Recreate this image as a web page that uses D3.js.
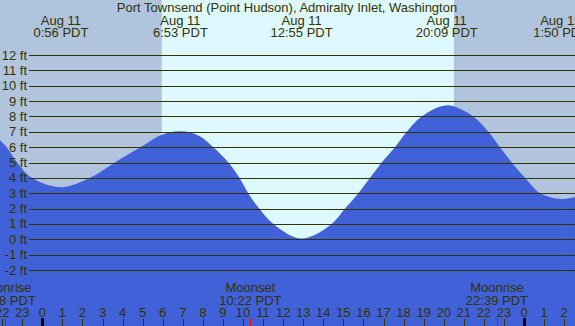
<!DOCTYPE html>
<html>
<head>
<meta charset="utf-8">
<script src="https://cdn.jsdelivr.net/npm/d3@7"></script>
<style>
  html, body { margin: 0; padding: 0; overflow: hidden; }
  svg { display: block; font-family: "Liberation Sans", Arial, sans-serif; }
</style>
</head>
<body>
<div id="chart"></div>
<script>
const title = 'Port Townsend (Point Hudson), Admiralty Inlet, Washington';

// tide height (ft), hours from midnight Aug 11
const tideHours = [-2.11, -1.77, -1.25, -0.53, 0.93, 2.38, 3.62, 5.03, 5.96, 6.88, 7.8, 8.52, 9.27, 9.82,
  10.26, 10.81, 11.51, 12.92, 14.42, 15.08, 15.75, 16.33, 16.91, 17.57, 18.16, 18.9,
  20.15, 21.47, 22.22, 22.8, 23.39, 24.05, 24.8, 25.83, 26.54];
const tideFeet = [6.46, 6.0, 5.0, 4.0, 3.39, 4.0, 5.0, 6.1, 6.8, 7.03, 6.75, 6.0, 5.0, 4.0,
  3.0, 2.0, 1.0, 0.05, 1.0, 2.0, 3.0, 4.0, 5.0, 6.0, 7.0, 8.0,
  8.72, 8.0, 7.0, 6.0, 5.0, 4.0, 3.0, 2.62, 2.75];

// high / low labels
const extremeHours = [0.93, 6.88, 12.92, 20.15, 25.83];
const extremeDates = ['Aug 11', 'Aug 11', 'Aug 11', 'Aug 11', 'Aug 12'];
const extremeTimes = ['0:56 PDT', '6:53 PDT', '12:55 PDT', '20:09 PDT', '1:50 PDT'];

// sun
const sunrise = 5.95;
const sunset = 20.51;

// moon events
const moonHours = [-1.87, 10.37, 22.65];
const moonNames = ['Moonrise', 'Moonset', 'Moonrise'];
const moonTimes = ['22:08 PDT', '10:22 PDT', '22:39 PDT'];

const feetTicks = d3.range(-2, 13);
const hourTicks = d3.range(-2, 27);

const width = 575;
const height = 326;
const ink = '#333300';
const fontSize = 13;

const x = d3.scaleLinear().domain([0, 24]).range([42.3, 524]);
const y = d3.scaleLinear().domain([0, 12]).range([239.3, 55]);

const svg = d3.select('#chart').append('svg')
  .attr('width', width)
  .attr('height', height);

// night and day backgrounds
svg.append('rect')
  .attr('width', width).attr('height', height)
  .attr('fill', '#b0c4de');

svg.append('rect')
  .attr('x', x(sunrise)).attr('y', 0)
  .attr('width', x(sunset) - x(sunrise)).attr('height', height)
  .attr('fill', '#ddf8ff');

// tide area
const tide = tideHours.map((h, i) => ({ h, v: tideFeet[i] }));
const area = d3.area()
  .x((d) => x(d.h))
  .y0(height)
  .y1((d) => y(d.v))
  .curve(d3.curveCatmullRom.alpha(0.5));

svg.append('path')
  .datum(tide)
  .attr('d', area)
  .attr('fill', '#4161d8');

// grid lines and foot labels
svg.append('g')
  .selectAll('line')
  .data(feetTicks)
  .join('line')
  .attr('x1', 29).attr('x2', width)
  .attr('y1', (d) => Math.round(y(d)) + 0.5)
  .attr('y2', (d) => Math.round(y(d)) + 0.5)
  .attr('stroke', ink)
  .attr('stroke-width', 1);

svg.append('g')
  .selectAll('text')
  .data(feetTicks)
  .join('text')
  .attr('x', 27)
  .attr('y', (d) => y(d) + 4.5)
  .attr('text-anchor', 'end')
  .attr('font-size', fontSize)
  .attr('fill', ink)
  .text((d) => `${d} ft`);

// title
svg.append('text')
  .attr('x', 287)
  .attr('y', 12)
  .attr('text-anchor', 'middle')
  .attr('font-size', fontSize)
  .attr('fill', ink)
  .text(title);

// high / low labels
const ext = svg.append('g')
  .selectAll('g')
  .data(extremeHours)
  .join('g')
  .attr('transform', (d) => `translate(${x(d)},0)`);

ext.append('text')
  .attr('y', 24.5)
  .attr('text-anchor', 'middle')
  .attr('font-size', fontSize)
  .attr('fill', ink)
  .text((d, i) => extremeDates[i]);

ext.append('text')
  .attr('y', 36.5)
  .attr('text-anchor', 'middle')
  .attr('font-size', fontSize)
  .attr('fill', ink)
  .text((d, i) => extremeTimes[i]);

// moon labels
const moon = svg.append('g')
  .selectAll('g')
  .data(moonHours)
  .join('g')
  .attr('transform', (d) => `translate(${x(d)},0)`);

moon.append('text')
  .attr('y', 292)
  .attr('text-anchor', 'middle')
  .attr('font-size', fontSize)
  .attr('fill', ink)
  .text((d, i) => moonNames[i]);

moon.append('text')
  .attr('y', 304.5)
  .attr('text-anchor', 'middle')
  .attr('font-size', fontSize)
  .attr('fill', ink)
  .text((d, i) => moonTimes[i]);

// hour axis
svg.append('g')
  .selectAll('text')
  .data(hourTicks)
  .join('text')
  .attr('x', (d) => x(d))
  .attr('y', 316.5)
  .attr('text-anchor', 'middle')
  .attr('font-size', fontSize)
  .attr('fill', ink)
  .text((d) => ((d % 24) + 24) % 24);

svg.append('g')
  .selectAll('line')
  .data(hourTicks)
  .join('line')
  .attr('x1', (d) => Math.round(x(d)) + 0.5)
  .attr('x2', (d) => Math.round(x(d)) + 0.5)
  .attr('y1', (d) => (d % 24 === 0 ? 318 : 319))
  .attr('y2', height)
  .attr('stroke', (d) => (d % 24 === 0 ? '#000' : ink))
  .attr('stroke-width', (d) => (d % 24 === 0 ? 3 : 1));

svg.append('g')
  .selectAll('line')
  .data(moonHours)
  .join('line')
  .attr('x1', (d) => Math.round(x(d)) + 0.5)
  .attr('x2', (d) => Math.round(x(d)) + 0.5)
  .attr('y1', 318)
  .attr('y2', height)
  .attr('stroke', '#ff0000')
  .attr('stroke-width', 1);
</script>
</body>
</html>
